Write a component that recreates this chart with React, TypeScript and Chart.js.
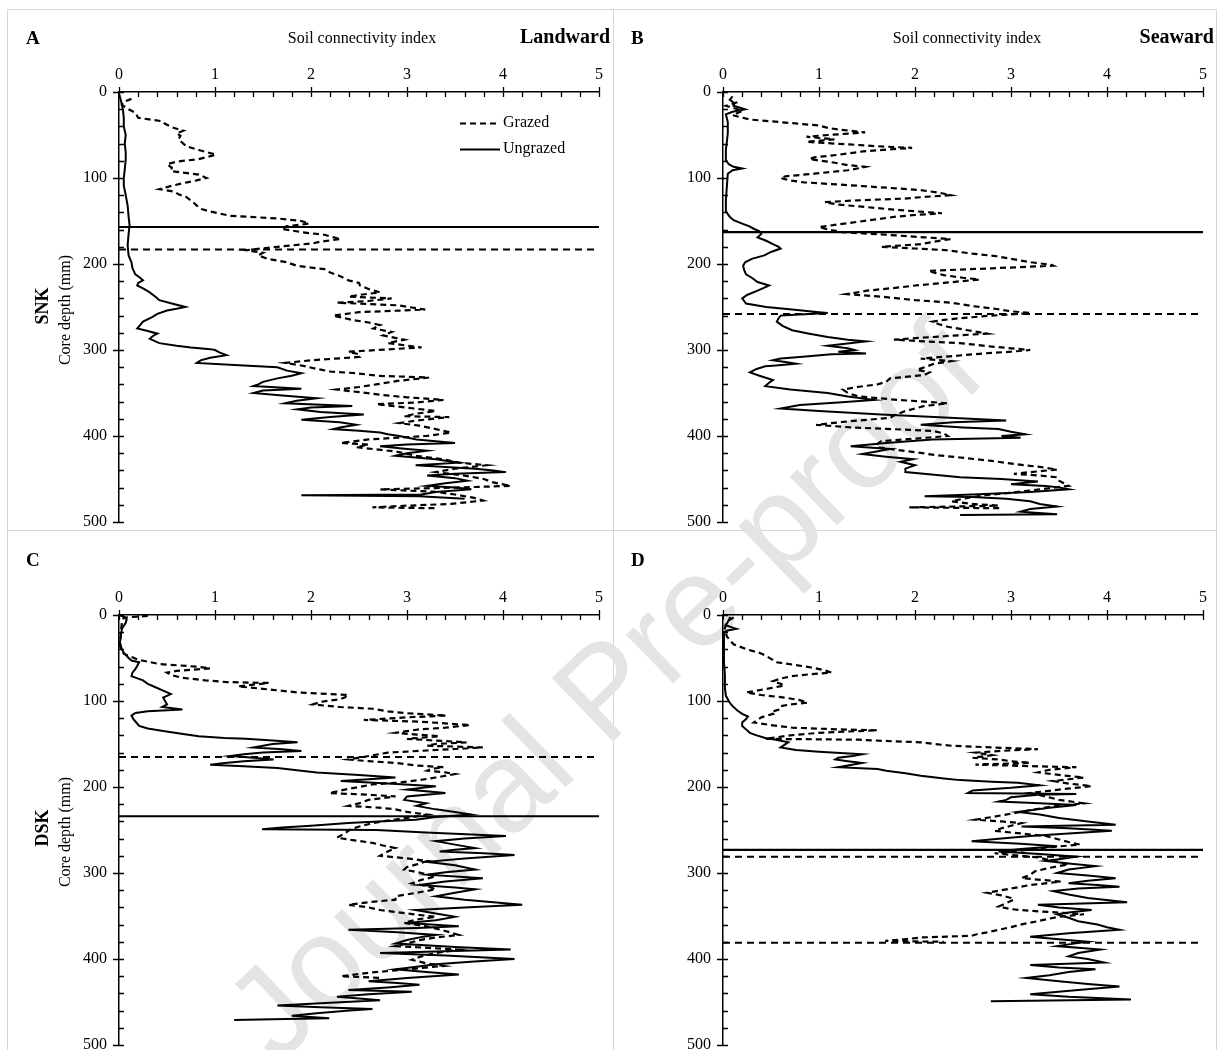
import React, { useEffect, useRef } from "react";
import { Chart, registerables } from "chart.js";

Chart.register(...registerables);

const SERIF = "'Liberation Serif', 'Times New Roman', serif";

type Pt = [number, number]; // [core depth (mm), soil connectivity index]

// ---- axes ----
const indexTicks = [0, 1, 2, 3, 4, 5];
const depthTicks = [0, 100, 200, 300, 400, 500];
const indexMinorTicks = [0.2, 0.4, 0.6, 0.8, 1.2, 1.4, 1.6, 1.8, 2.2, 2.4, 2.6, 2.8, 3.2, 3.4, 3.6, 3.8, 4.2, 4.4, 4.6, 4.8];
const depthMinorTicks = [20, 40, 60, 80, 120, 140, 160, 180, 220, 240, 260, 280, 320, 340, 360, 380, 420, 440, 460, 480];

// ---- Panel A: SNK landward ----
const aGrazed: Pt[] = [
  [8, 0.13], [12, 0.04], [15, 0.03], [20, 0.1], [24, 0.17], [30, 0.2], [34, 0.45], [37, 0.48], [41, 0.55], [45, 0.67],
  [48, 0.6], [51, 0.64], [55, 0.62], [59, 0.66], [63, 0.7], [68, 0.85], [73, 1.01], [78, 0.83], [81, 0.6], [84, 0.5],
  [88, 0.55], [92, 0.54], [96, 0.83], [100, 0.91], [103, 0.8], [105, 0.71], [109, 0.55], [113, 0.42], [116, 0.58], [119, 0.62],
  [122, 0.7], [127, 0.76], [132, 0.81], [136, 0.86], [139, 0.95], [144, 1.16], [147, 1.65], [150, 1.9], [153, 1.98], [156, 1.75],
  [159, 1.69], [163, 1.9], [166, 2.14], [168, 2.2], [171, 2.31], [174, 2.1], [176, 2.02], [180, 1.65], [184, 1.32], [187, 1.5],
  [190, 1.45], [194, 1.55], [198, 1.75], [202, 1.85], [206, 2.14], [210, 2.2], [214, 2.3], [219, 2.39], [222, 2.5], [225, 2.51],
  [229, 2.6], [233, 2.72], [236, 2.5], [238, 2.39], [240, 2.84], [243, 2.6], [245, 2.27], [248, 2.9], [253, 3.19], [256, 2.5],
  [260, 2.23], [263, 2.35], [265, 2.43], [268, 2.6], [271, 2.72], [275, 2.65], [279, 2.84], [283, 2.75], [288, 2.97], [292, 2.8],
  [297, 3.15], [300, 2.7], [302, 2.39], [305, 2.5], [308, 2.51], [312, 2.0], [315, 1.73], [318, 1.9], [322, 2.06], [325, 2.2],
  [327, 2.47], [330, 2.7], [332, 3.23], [336, 2.9], [340, 2.68], [343, 2.5], [346, 2.27], [349, 2.5], [352, 2.72], [355, 3.0],
  [358, 3.38], [361, 3.1], [363, 2.68], [367, 3.0], [371, 3.3], [374, 3.1], [377, 2.97], [378, 3.44], [382, 3.1], [385, 2.92],
  [388, 3.13], [392, 3.3], [396, 3.46], [400, 3.2], [404, 2.6], [408, 2.31], [410, 2.6], [413, 2.47], [418, 2.88], [423, 3.09],
  [427, 3.38], [431, 3.54], [434, 3.83], [438, 3.5], [442, 3.3], [446, 3.6], [450, 3.8], [454, 3.9], [458, 4.08], [460, 3.5],
  [462, 2.72], [465, 3.3], [468, 3.5], [472, 3.7], [475, 3.79], [479, 3.46], [481, 3.0], [483, 2.64], [484, 3.3],
];
const aUngrazed: Pt[] = [
  [2, 0.0], [10, 0.02], [20, 0.04], [30, 0.05], [40, 0.05], [50, 0.07], [60, 0.06], [70, 0.07], [78, 0.07], [90, 0.06],
  [100, 0.05], [109, 0.05], [120, 0.07], [132, 0.09], [145, 0.1], [155, 0.11], [165, 0.1], [178, 0.09], [190, 0.1], [198, 0.13],
  [205, 0.14], [212, 0.17], [216, 0.22], [219, 0.25], [222, 0.2], [225, 0.19], [229, 0.26], [233, 0.32], [238, 0.38], [242, 0.42],
  [246, 0.55], [250, 0.69], [252, 0.6], [254, 0.5], [258, 0.4], [262, 0.34], [267, 0.25], [271, 0.22], [275, 0.19], [278, 0.3],
  [281, 0.4], [284, 0.35], [287, 0.32], [290, 0.38], [292, 0.42], [295, 0.6], [297, 0.75], [299, 0.95], [300, 1.0], [303, 1.05],
  [306, 1.12], [309, 0.95], [312, 0.85], [315, 0.81], [318, 1.3], [320, 1.65], [324, 1.75], [327, 1.9], [330, 1.8], [333, 1.65],
  [337, 1.5], [340, 1.45], [342, 1.4], [345, 1.9], [347, 1.5], [350, 1.4], [353, 1.7], [356, 2.06], [359, 1.85], [362, 1.73],
  [365, 2.43], [367, 2.0], [369, 1.86], [372, 2.1], [375, 2.55], [378, 2.2], [381, 1.9], [384, 2.3], [387, 2.47], [390, 2.3],
  [392, 2.23], [394, 2.5], [396, 2.72], [398, 2.8], [400, 2.92], [404, 3.1], [408, 3.5], [410, 3.0], [412, 2.72], [415, 3.0],
  [417, 3.21], [420, 3.0], [423, 2.88], [427, 3.3], [431, 3.54], [434, 3.09], [436, 3.4], [438, 3.71], [440, 3.9], [442, 4.03],
  [444, 3.5], [446, 3.21], [449, 3.5], [452, 3.63], [455, 3.4], [458, 3.21], [460, 3.5], [462, 3.67], [465, 3.3], [468, 3.15],
  [469, 1.9], [470, 3.13], [473, 3.6],
];
const aGrazedBreaks = [183];
const aUngrazedBreaks = [157];

// ---- Panel B: SNK seaward ----
const bGrazed: Pt[] = [
  [12, 0.15], [16, 0.03], [20, 0.15], [22, 0.2], [27, 0.1], [32, 0.28], [36, 0.7], [39, 1.0], [42, 1.1], [44, 1.24],
  [47, 1.48], [50, 1.1], [52, 0.87], [55, 1.16], [58, 0.87], [61, 1.32], [63, 1.6], [65, 1.97], [67, 1.7], [69, 1.46],
  [73, 1.2], [76, 0.95], [78, 0.9], [82, 1.15], [85, 1.3], [87, 1.48], [89, 1.4], [91, 1.3], [95, 0.95], [98, 0.65],
  [100, 0.6], [103, 0.7], [105, 0.84], [109, 1.4], [112, 1.8], [114, 2.05], [117, 2.25], [120, 2.37], [122, 2.1], [124, 1.88],
  [126, 1.4], [128, 1.06], [131, 1.2], [133, 1.42], [137, 1.8], [141, 2.28], [143, 2.0], [145, 1.8], [148, 1.6], [151, 1.4],
  [154, 1.2], [157, 1.0], [160, 1.1], [163, 1.24], [166, 1.7], [169, 2.1], [171, 2.37], [174, 2.2], [177, 2.06], [180, 1.65],
  [182, 2.0], [184, 2.33], [188, 2.6], [191, 2.85], [195, 3.05], [198, 3.21], [201, 3.42], [202, 3.44], [205, 2.8], [208, 2.14],
  [210, 2.2], [213, 2.3], [216, 2.5], [218, 2.67], [222, 2.3], [225, 2.0], [227, 1.86], [231, 1.5], [235, 1.29], [238, 1.65],
  [242, 2.0], [245, 2.38], [249, 2.6], [252, 2.83], [255, 3.0], [257, 3.2], [260, 2.8], [263, 2.47], [265, 2.3], [267, 2.18],
  [270, 2.25], [273, 2.34], [277, 2.55], [281, 2.75], [284, 2.3], [288, 1.78], [290, 2.1], [292, 2.47], [296, 2.8], [300, 3.2],
  [302, 3.0], [304, 2.71], [307, 2.4], [310, 2.06], [313, 2.38], [316, 2.2], [320, 2.1], [323, 2.02], [326, 2.15], [329, 2.1],
  [333, 1.74], [337, 1.7], [340, 1.61], [343, 1.4], [346, 1.25], [350, 1.3], [354, 1.41], [358, 1.82], [360, 2.1], [362, 2.34],
  [365, 2.1], [368, 2.0], [371, 1.9], [375, 1.8], [379, 1.74], [383, 1.3], [387, 0.97], [390, 1.33], [394, 2.18], [397, 2.3],
  [400, 2.34], [403, 2.0], [406, 1.65], [410, 1.6], [413, 1.61], [416, 1.8], [419, 2.02], [422, 2.2], [425, 2.47], [429, 2.8],
  [433, 3.07], [436, 3.3], [439, 3.48], [442, 3.2], [444, 3.03], [446, 3.3], [448, 3.48], [452, 3.5], [455, 3.55], [458, 3.6],
  [462, 3.3], [466, 3.0], [469, 2.71], [473, 2.5], [476, 2.38], [479, 2.6], [481, 2.87], [483, 1.94], [484, 2.9],
];
const bUngrazed: Pt[] = [
  [5, 0.1], [9, 0.07], [13, 0.12], [16, 0.11], [20, 0.23], [23, 0.1], [26, 0.03], [35, 0.05], [48, 0.05], [58, 0.04],
  [67, 0.03], [79, 0.03], [84, 0.06], [87, 0.11], [89, 0.2], [91, 0.1], [95, 0.05], [110, 0.04], [126, 0.03], [139, 0.03],
  [145, 0.07], [149, 0.11], [153, 0.2], [156, 0.27], [159, 0.32], [162, 0.38], [165, 0.4], [169, 0.36], [173, 0.45], [177, 0.52],
  [180, 0.58], [182, 0.6], [186, 0.5], [190, 0.43], [194, 0.3], [198, 0.23], [202, 0.21], [207, 0.22], [212, 0.24], [216, 0.3],
  [221, 0.36], [225, 0.48], [228, 0.42], [231, 0.36], [236, 0.25], [240, 0.2], [243, 0.22], [246, 0.24], [250, 0.45], [253, 0.72],
  [256, 1.0], [257, 1.09], [259, 0.75], [260, 0.6], [263, 0.58], [267, 0.56], [272, 0.62], [277, 0.72], [281, 0.9], [285, 1.09],
  [288, 1.3], [290, 1.49], [293, 1.25], [295, 1.09], [298, 1.3], [300, 1.37], [302, 1.2], [304, 1.49], [305, 1.13], [308, 0.8],
  [310, 0.6], [312, 0.52], [314, 0.65], [316, 0.76], [318, 0.55], [319, 0.44], [322, 0.35], [326, 0.28], [330, 0.38], [335, 0.52],
  [338, 0.48], [342, 0.44], [346, 0.7], [350, 1.09], [354, 1.3], [358, 1.57], [361, 1.2], [364, 0.8], [368, 0.6], [371, 1.0],
  [375, 1.65], [378, 2.2], [382, 2.95], [384, 2.4], [387, 2.06], [390, 2.5], [392, 2.87], [395, 3.0], [398, 3.15], [400, 2.9],
  [402, 3.1], [404, 2.18], [408, 1.7], [412, 1.33], [415, 1.74], [418, 1.6], [421, 1.45], [424, 1.7], [427, 1.98], [430, 1.85],
  [434, 2.0], [438, 1.9], [442, 1.9], [445, 2.2], [448, 2.47], [450, 2.9], [453, 3.28], [456, 3.0], [458, 3.36], [460, 3.5],
  [462, 3.6], [465, 3.2], [468, 2.6], [470, 2.1], [471, 2.6], [473, 2.95], [476, 3.2], [479, 3.3], [482, 3.48], [485, 3.2],
  [488, 3.1], [491, 3.48], [492, 2.47],
];
const bGrazedBreaks = [258];
const bUngrazedBreaks = [163];

// ---- Panel C: DSK landward ----
const cGrazed: Pt[] = [
  [1, 0.3], [3, 0.05], [9, 0.03], [20, 0.02], [36, 0.01], [45, 0.05], [52, 0.2], [57, 0.42], [60, 0.8], [62, 0.95],
  [65, 0.6], [67, 0.5], [70, 0.55], [73, 0.66], [76, 0.9], [78, 1.12], [79, 1.56], [81, 1.4], [83, 1.24], [87, 1.6],
  [90, 1.86], [92, 2.2], [93, 2.39], [96, 2.35], [98, 2.3], [101, 2.1], [104, 2.02], [107, 2.3], [109, 2.64], [112, 2.8],
  [114, 2.97], [117, 3.41], [119, 3.0], [122, 2.55], [124, 3.13], [126, 3.4], [128, 3.66], [131, 3.4], [133, 3.13], [135, 3.0],
  [137, 2.88], [139, 3.1], [141, 3.34], [144, 3.0], [146, 3.3], [148, 3.62], [150, 3.3], [152, 3.21], [154, 3.79], [157, 3.3],
  [160, 2.8], [164, 2.6], [168, 2.39], [170, 2.6], [172, 2.88], [175, 3.1], [177, 3.38], [179, 3.25], [181, 3.21], [183, 3.4],
  [185, 3.5], [189, 3.3], [192, 3.13], [195, 2.9], [197, 2.64], [202, 2.4], [207, 2.19], [209, 2.6], [211, 2.88], [215, 2.6],
  [219, 2.5], [222, 2.39], [224, 2.7], [226, 2.88], [229, 3.0], [232, 3.21], [236, 3.0], [239, 2.8], [242, 2.64], [246, 2.5],
  [250, 2.4], [254, 2.35], [259, 2.27], [262, 2.45], [265, 2.64], [268, 2.75], [271, 2.88], [275, 2.8], [280, 2.72], [283, 3.0],
  [286, 3.21], [290, 3.1], [293, 3.0], [296, 2.97], [300, 3.15], [304, 3.3], [308, 3.15], [312, 3.05], [315, 3.2], [319, 3.3],
  [323, 3.1], [327, 2.88], [331, 2.88], [334, 2.6], [337, 2.39], [340, 2.6], [343, 2.72], [347, 3.0], [351, 3.3], [354, 3.1],
  [358, 2.97], [362, 3.2], [366, 3.35], [369, 3.45], [372, 3.54], [375, 3.3], [378, 3.13], [382, 3.0], [385, 2.88], [389, 3.54],
  [393, 3.3], [397, 3.15], [401, 3.05], [405, 3.2], [408, 3.38], [412, 3.0], [416, 2.6], [420, 2.31], [422, 2.72],
];
const cUngrazed: Pt[] = [
  [0, 0.0], [2, 0.05], [5, 0.08], [9, 0.07], [16, 0.03], [24, 0.02], [32, 0.01], [40, 0.03], [44, 0.05], [50, 0.1],
  [53, 0.13], [55, 0.21], [59, 0.19], [63, 0.17], [67, 0.14], [71, 0.13], [74, 0.2], [76, 0.25], [80, 0.3], [84, 0.38],
  [88, 0.46], [92, 0.54], [94, 0.5], [96, 0.46], [100, 0.48], [104, 0.5], [107, 0.45], [110, 0.66], [112, 0.3], [114, 0.17],
  [117, 0.13], [121, 0.15], [125, 0.18], [129, 0.21], [132, 0.3], [135, 0.46], [138, 0.65], [141, 0.83], [143, 1.1], [144, 1.32],
  [146, 1.6], [148, 1.86], [150, 1.6], [152, 1.5], [154, 1.4], [156, 1.7], [158, 1.9], [160, 1.5], [162, 1.3], [164, 1.16],
  [166, 1.4], [168, 1.61], [170, 1.3], [172, 1.1], [174, 0.95], [176, 1.3], [178, 1.65], [181, 1.9], [183, 2.06], [186, 2.5],
  [189, 2.88], [191, 2.6], [193, 2.31], [196, 2.8], [199, 3.3], [203, 3.0], [207, 3.4], [211, 3.0], [215, 2.97], [219, 3.2],
  [222, 3.1], [226, 3.3], [229, 3.5], [232, 3.67], [235, 3.3], [238, 3.09], [240, 2.7], [242, 2.39], [245, 2.0], [247, 1.7],
  [249, 1.49], [250, 2.68], [253, 3.2], [257, 4.03], [260, 3.6], [263, 3.3], [267, 3.5], [271, 3.71], [273, 3.5], [275, 3.34],
  [277, 3.8], [279, 4.12], [283, 3.6], [287, 3.21], [291, 3.5], [296, 3.71], [299, 3.4], [302, 3.21], [306, 3.79], [310, 3.4],
  [314, 3.13], [317, 3.5], [319, 3.71], [323, 3.5], [327, 3.3], [331, 3.6], [334, 3.9], [337, 4.2], [340, 3.6], [343, 3.09],
  [347, 3.3], [351, 3.5], [355, 3.3], [358, 3.0], [362, 3.54], [364, 3.1], [366, 2.39], [369, 2.9], [372, 3.3], [374, 3.17],
  [378, 3.0], [382, 2.88], [386, 3.5], [389, 4.08], [391, 3.4], [393, 2.72], [396, 3.4], [400, 4.12], [403, 3.7], [406, 3.3],
  [409, 3.1], [412, 2.88], [415, 3.2], [418, 3.54], [422, 3.0], [426, 2.6], [428, 2.9], [430, 3.13], [433, 2.8], [436, 2.39],
  [438, 3.05], [441, 2.6], [444, 2.27], [446, 2.5], [448, 2.72], [451, 2.2], [454, 1.65], [456, 2.1], [458, 2.64], [460, 2.4],
  [463, 2.06], [466, 1.8], [469, 2.19], [470, 1.6], [471, 1.2],
];
const cGrazedBreaks = [165];
const cUngrazedBreaks = [234];

// ---- Panel D: DSK seaward ----
const dGrazed: Pt[] = [
  [3, 0.11], [6, 0.06], [10, 0.03], [16, 0.02], [25, 0.04], [34, 0.11], [40, 0.25], [44, 0.38], [47, 0.44], [51, 0.5],
  [55, 0.56], [58, 0.75], [61, 0.92], [64, 1.05], [67, 1.13], [69, 0.9], [71, 0.72], [74, 0.6], [77, 0.52], [80, 0.6],
  [82, 0.64], [86, 0.45], [90, 0.24], [93, 0.4], [96, 0.64], [99, 0.8], [102, 0.88], [104, 0.7], [106, 0.6], [110, 0.58],
  [113, 0.5], [115, 0.52], [119, 0.4], [122, 0.36], [125, 0.32], [128, 0.5], [131, 0.72], [133, 1.2], [134, 1.61], [136, 1.2],
  [137, 1.0], [140, 0.7], [144, 0.44], [145, 1.41], [147, 1.8], [148, 2.06], [150, 2.2], [152, 2.38], [154, 2.8], [156, 3.28],
  [158, 2.9], [160, 2.63], [163, 2.8], [166, 2.6], [168, 2.87], [170, 3.0], [172, 3.2], [174, 2.63], [176, 3.3], [177, 3.68],
  [180, 3.4], [183, 3.28], [186, 3.5], [189, 3.76], [191, 3.6], [193, 3.44], [196, 3.6], [199, 3.84], [203, 3.5], [207, 3.2],
  [211, 3.36], [215, 3.5], [219, 3.76], [223, 3.4], [227, 3.2], [231, 3.0], [235, 2.8], [238, 2.63], [240, 2.9], [242, 3.11],
  [245, 3.0], [248, 2.9], [251, 2.83], [254, 3.1], [257, 3.36], [261, 3.5], [264, 3.6], [267, 3.72], [270, 3.4], [274, 3.1],
  [277, 2.83], [280, 3.1], [282, 3.28], [286, 3.45], [290, 3.6], [294, 3.4], [298, 3.25], [302, 3.2], [306, 3.11], [310, 3.52],
  [314, 3.2], [318, 3.0], [321, 2.85], [323, 2.75], [326, 2.9], [329, 3.0], [331, 3.03], [335, 2.95], [339, 2.87], [342, 3.0],
  [344, 3.2], [346, 3.5], [348, 3.76], [351, 3.5], [353, 3.4], [356, 3.28], [360, 3.1], [363, 3.0], [366, 2.87], [369, 2.75],
  [371, 2.65], [373, 2.59], [375, 2.06], [377, 1.9], [379, 1.69], [380, 2.3],
];
const dUngrazed: Pt[] = [
  [2, 0.07], [4, 0.07], [8, 0.05], [12, 0.03], [15, 0.11], [16, 0.14], [18, 0.05], [20, 0.01], [30, 0.01], [45, 0.01],
  [55, 0.01], [70, 0.02], [85, 0.02], [94, 0.03], [98, 0.05], [102, 0.07], [106, 0.1], [111, 0.15], [115, 0.2], [118, 0.26],
  [121, 0.24], [125, 0.2], [129, 0.2], [133, 0.24], [137, 0.28], [140, 0.35], [143, 0.44], [145, 0.55], [148, 0.68], [151, 0.64],
  [154, 0.6], [157, 0.76], [159, 1.0], [162, 1.45], [164, 1.35], [166, 1.2], [168, 1.17], [170, 1.3], [172, 1.45], [175, 1.3],
  [177, 1.2], [179, 1.61], [181, 1.7], [184, 1.9], [187, 2.06], [190, 2.3], [192, 2.47], [194, 2.8], [195, 3.07], [198, 3.3],
  [201, 3.0], [204, 2.6], [207, 2.55], [208, 3.68], [209, 3.28], [212, 3.0], [215, 2.95], [217, 2.87], [219, 3.3], [221, 3.68],
  [224, 3.4], [227, 3.2], [229, 3.07], [232, 3.3], [236, 3.5], [240, 3.8], [244, 4.09], [246, 3.11], [248, 3.6], [251, 4.05],
  [254, 3.6], [257, 3.2], [260, 2.9], [263, 2.59], [266, 3.1], [269, 3.48], [272, 3.1], [275, 2.87], [278, 3.3], [281, 3.68],
  [284, 3.5], [286, 3.36], [289, 3.6], [292, 3.88], [296, 3.6], [300, 3.48], [303, 3.8], [306, 4.09], [309, 3.8], [312, 3.6],
  [314, 3.9], [316, 4.13], [318, 3.7], [321, 3.44], [325, 3.6], [329, 3.8], [334, 4.21], [337, 3.28], [340, 3.5], [343, 3.84],
  [346, 3.6], [348, 3.48], [352, 3.6], [356, 3.7], [360, 3.9], [363, 4.0], [366, 4.13], [370, 3.6], [374, 3.2], [377, 3.5],
  [380, 3.8], [383, 3.6], [385, 3.48], [389, 3.93], [393, 3.7], [397, 3.6], [400, 3.8], [404, 3.97], [407, 3.2], [410, 3.5],
  [412, 3.88], [415, 3.6], [419, 3.4], [422, 3.16], [426, 3.5], [429, 3.8], [432, 4.13], [436, 3.7], [441, 3.2], [444, 3.6],
  [447, 4.25], [449, 2.79],
];
const dGrazedBreaks = [281, 381];
const dUngrazedBreaks = [273];

const legendLabels = ["Grazed", "Ungrazed"];

// ---- layout ----
const CANVAS_W = 604;
const CANVAS_H = 520;
const Y_AXIS_W = 111;
const X_AXIS_H = 82;
const GRAZED_DASH = [6, 4];

interface PanelSpec {
  id: string;
  left: number;
  top: number;
  grazed: Pt[];
  ungrazed: Pt[];
  grazedBreaks: number[];
  ungrazedBreaks: number[];
  legend: boolean;
}

const panels: PanelSpec[] = [
  { id: "A", left: 8, top: 10, grazed: aGrazed, ungrazed: aUngrazed, grazedBreaks: aGrazedBreaks, ungrazedBreaks: aUngrazedBreaks, legend: true },
  { id: "B", left: 612, top: 10, grazed: bGrazed, ungrazed: bUngrazed, grazedBreaks: bGrazedBreaks, ungrazedBreaks: bUngrazedBreaks, legend: false },
  { id: "C", left: 8, top: 533, grazed: cGrazed, ungrazed: cUngrazed, grazedBreaks: cGrazedBreaks, ungrazedBreaks: cUngrazedBreaks, legend: false },
  { id: "D", left: 612, top: 533, grazed: dGrazed, ungrazed: dUngrazed, grazedBreaks: dGrazedBreaks, ungrazedBreaks: dUngrazedBreaks, legend: false },
];

const tickMarksPlugin = {
  id: "tickMarks",
  afterDraw(chart: any) {
    const { ctx, chartArea } = chart;
    const x = chart.scales.x;
    const y = chart.scales.y;
    const top = chartArea.top;
    const left = chartArea.left;
    ctx.save();
    ctx.strokeStyle = "#000";
    ctx.lineWidth = 1.3;
    ctx.beginPath();
    indexTicks.forEach((v) => {
      const px = Math.round(x.getPixelForValue(v)) + 0.5;
      ctx.moveTo(px, top - 5);
      ctx.lineTo(px, top + 5);
    });
    indexMinorTicks.forEach((v) => {
      const px = Math.round(x.getPixelForValue(v)) + 0.5;
      ctx.moveTo(px, top);
      ctx.lineTo(px, top + 5);
    });
    depthTicks.forEach((v) => {
      const py = Math.round(y.getPixelForValue(v)) + 0.5;
      ctx.moveTo(left - 6, py);
      ctx.lineTo(left + 5, py);
    });
    depthMinorTicks.forEach((v) => {
      const py = Math.round(y.getPixelForValue(v)) + 0.5;
      ctx.moveTo(left, py);
      ctx.lineTo(left + 5, py);
    });
    ctx.stroke();
    ctx.restore();
  },
};

const legendPlugin = {
  id: "insetLegend",
  afterDraw(chart: any, _args: any, opts: any) {
    if (!opts || !opts.show) return;
    const { ctx, chartArea } = chart;
    const x0 = chartArea.left + 341;
    const x1 = chartArea.left + 381;
    const rows = [chartArea.top + 31, chartArea.top + 57];
    ctx.save();
    ctx.strokeStyle = "#000";
    ctx.fillStyle = "#000";
    ctx.font = `16px ${SERIF}`;
    ctx.textBaseline = "middle";
    ctx.textAlign = "left";
    legendLabels.forEach((label, i) => {
      const ds = chart.data.datasets[i];
      ctx.lineWidth = 2;
      ctx.setLineDash(ds.borderDash || []);
      ctx.beginPath();
      ctx.moveTo(x0, rows[i] + 0.5);
      ctx.lineTo(x1, rows[i] + 0.5);
      ctx.stroke();
      ctx.setLineDash([]);
      ctx.fillText(label, x1 + 3, rows[i]);
    });
    ctx.restore();
  },
};

function PanelChart({ spec }: { spec: PanelSpec }) {
  const ref = useRef<HTMLCanvasElement>(null);
  useEffect(() => {
    if (!ref.current) return;
    const toXY = (arr: Pt[]) => arr.map(([d, v]) => ({ x: v, y: d }));
    const xMin = indexTicks[0];
    const xMax = indexTicks[indexTicks.length - 1];
    const base = (label: string, data: any[], dash: number[], width: number) => ({
      label,
      data,
      showLine: true,
      borderColor: "#000",
      backgroundColor: "#000",
      borderWidth: width,
      borderDash: dash,
      pointRadius: 0,
      pointHoverRadius: 0,
      tension: 0,
      fill: false,
    });
    const datasets: any[] = [
      base("Grazed", toXY(spec.grazed), GRAZED_DASH, 2.2),
      base("Ungrazed", toXY(spec.ungrazed), [], 2),
      ...spec.grazedBreaks.map((d) => base("Grazed break", [{ x: xMin, y: d }, { x: xMax, y: d }], [7, 5], 2)),
      ...spec.ungrazedBreaks.map((d) => base("Ungrazed break", [{ x: xMin, y: d }, { x: xMax, y: d }], [], 2.2)),
    ];
    const tickFont = { family: SERIF, size: 16 };
    const chart = new Chart(ref.current, {
      type: "scatter",
      data: { datasets },
      options: {
        animation: false,
        responsive: false,
        maintainAspectRatio: false,
        events: [],
        layout: { padding: { left: 0, top: 0, right: 13, bottom: 8 } },
        plugins: {
          legend: { display: false },
          tooltip: { enabled: false },
          insetLegend: { show: spec.legend },
        } as any,
        scales: {
          x: {
            type: "linear",
            position: "top",
            min: xMin,
            max: xMax,
            afterBuildTicks: (s: any) => {
              s.ticks = indexTicks.map((v) => ({ value: v }));
            },
            afterFit: (s: any) => {
              s.height = X_AXIS_H;
              s.paddingLeft = 0;
              s.paddingRight = 0;
            },
            ticks: { font: tickFont, color: "#000", padding: 8, maxRotation: 0, autoSkip: false },
            grid: { display: false, drawTicks: false },
            border: { display: true, color: "#000", width: 1.5 },
          },
          y: {
            type: "linear",
            reverse: true,
            min: depthTicks[0],
            max: depthTicks[depthTicks.length - 1],
            afterBuildTicks: (s: any) => {
              s.ticks = depthTicks.map((v) => ({ value: v }));
            },
            afterFit: (s: any) => {
              s.width = Y_AXIS_W;
              s.paddingTop = 0;
              s.paddingBottom = 0;
            },
            ticks: { font: tickFont, color: "#000", padding: 12, autoSkip: false },
            grid: { display: false, drawTicks: false },
            border: { display: true, color: "#000", width: 1.5 },
          },
        },
      } as any,
      plugins: [tickMarksPlugin, legendPlugin],
    });
    return () => chart.destroy();
  }, [spec]);
  return (
    <canvas
      ref={ref}
      width={CANVAS_W}
      height={CANVAS_H}
      style={{ position: "absolute", left: spec.left, top: spec.top, width: CANVAS_W, height: CANVAS_H, zIndex: 2 }}
    />
  );
}

function Label({ text, cx, cy, size, bold, rotate, anchor }: { text: string; cx: number; cy: number; size: number; bold?: boolean; rotate?: boolean; anchor?: "center" | "right" | "left" }) {
  const a = anchor || "center";
  const tx = a === "center" ? "-50%" : a === "right" ? "-100%" : "0";
  return (
    <div
      style={{
        position: "absolute",
        left: cx,
        top: cy,
        transform: `translate(${tx}, -50%)${rotate ? " rotate(-90deg)" : ""}`,
        transformOrigin: a === "center" ? "50% 50%" : undefined,
        fontFamily: SERIF,
        fontSize: size,
        fontWeight: bold ? 700 : 400,
        whiteSpace: "nowrap",
        lineHeight: 1,
        color: "#000",
        zIndex: 3,
      }}
    >
      {text}
    </div>
  );
}

const BORDER = "#d6d6d6";

export default function App() {
  useEffect(() => {
    document.body.style.margin = "0";
  }, []);
  return (
    <div style={{ position: "absolute", left: 0, top: 0, width: 1221, height: 1050, overflow: "hidden", background: "#fff" }}>
      {/* watermark */}
      <div
        style={{
          position: "absolute",
          left: 603,
          top: 690,
          transform: "translate(-50%, -50%) rotate(-44deg)",
          fontFamily: "'Liberation Sans', Arial, sans-serif",
          fontSize: 128,
          color: "#e4e4e4",
          whiteSpace: "nowrap",
          lineHeight: 1,
          zIndex: 1,
        }}
      >
        Journal Pre-proof
      </div>
      {/* panel frames */}
      <div style={{ position: "absolute", left: 7, top: 9, width: 1210, height: 1, background: BORDER }} />
      <div style={{ position: "absolute", left: 7, top: 530, width: 1210, height: 1, background: BORDER }} />
      <div style={{ position: "absolute", left: 7, top: 9, width: 1, height: 1041, background: BORDER }} />
      <div style={{ position: "absolute", left: 613, top: 9, width: 1, height: 1041, background: BORDER }} />
      <div style={{ position: "absolute", left: 1216, top: 9, width: 1, height: 1041, background: BORDER }} />

      {panels.map((p) => (
        <PanelChart key={p.id} spec={p} />
      ))}

      <Label text="A" cx={26} cy={37} size={19} bold anchor="left" />
      <Label text="B" cx={631} cy={37} size={19} bold anchor="left" />
      <Label text="C" cx={26} cy={559} size={19} bold anchor="left" />
      <Label text="D" cx={631} cy={559} size={19} bold anchor="left" />

      <Label text="Soil connectivity index" cx={362} cy={38} size={16} />
      <Label text="Soil connectivity index" cx={967} cy={38} size={16} />
      <Label text="Landward" cx={610} cy={36} size={20} bold anchor="right" />
      <Label text="Seaward" cx={1214} cy={36} size={20} bold anchor="right" />

      <Label text="SNK" cx={42} cy={306} size={18} bold rotate />
      <Label text="Core depth (mm)" cx={65} cy={310} size={16} rotate />
      <Label text="DSK" cx={42} cy={828} size={18} bold rotate />
      <Label text="Core depth (mm)" cx={65} cy={832} size={16} rotate />
    </div>
  );
}
